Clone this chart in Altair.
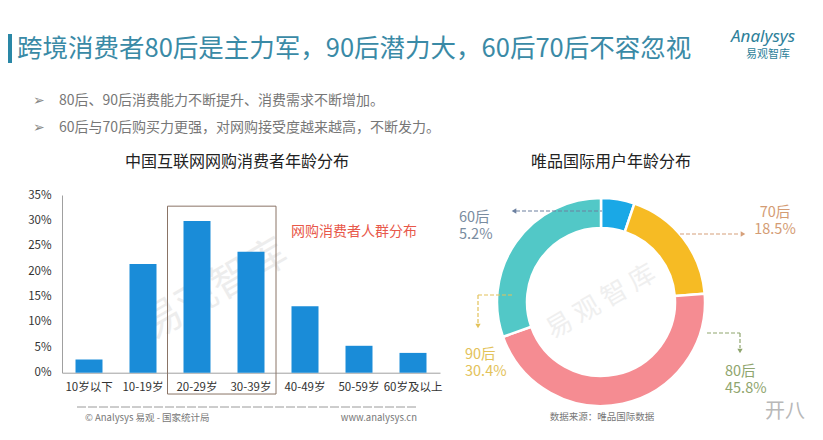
import altair as alt
import pandas as pd

FONT = "Noto Sans CJK SC"
OFF = 8  # page margin

# ---------- data ----------
age_groups = ["10岁以下", "10-19岁", "20-29岁", "30-39岁", "40-49岁", "50-59岁", "60岁及以上"]
age_shares = [0.026, 0.214, 0.299, 0.238, 0.131, 0.053, 0.039]

gen_labels = ["60后", "70后", "80后", "90后"]
gen_shares = [5.2, 18.5, 45.8, 30.4]
gen_colors = ["#1AA8E6", "#F6BB24", "#F58C92", "#52C8C7"]
gen_text_colors = ["#7A8CA0", "#D49C74", "#8FA56E", "#E3C25A"]

y_ticks = [0, 0.05, 0.10, 0.15, 0.20, 0.25, 0.30, 0.35]
highlight = ["20-29岁", "30-39岁"]

bars_df = pd.DataFrame({"age": age_groups, "share": age_shares})
pie_df = pd.DataFrame({"gen": gen_labels, "share": gen_shares, "idx": list(range(len(gen_labels)))})
box_df = pd.DataFrame({"a": [highlight[0]], "b": [highlight[1]], "top": [0.328], "bottom": [-0.042]})

ONE = alt.Data(values=[{}])


def txt(s, x, y, size, color, align="left", weight="normal", font=FONT, angle=0, style="normal",
        line_height=None):
    kw = dict(text=s, align=align, baseline="middle", fontSize=size, color=color,
              font=font, fontWeight=weight, angle=angle, fontStyle=style)
    if line_height is not None:
        kw["lineHeight"] = line_height
    return alt.Chart(ONE).mark_text(**kw).encode(x=alt.value(x - OFF), y=alt.value(y - OFF))


def rule(x1, y1, x2, y2, color, dash=(4, 2), width=1.2):
    return alt.Chart(ONE).mark_rule(color=color, strokeDash=list(dash), strokeWidth=width).encode(
        x=alt.value(x1 - OFF), y=alt.value(y1 - OFF), x2=alt.value(x2 - OFF), y2=alt.value(y2 - OFF)
    )


def head(x, y, shape, color, size=28):
    return alt.Chart(ONE).mark_point(shape=shape, filled=True, size=size, color=color, opacity=1).encode(
        x=alt.value(x - OFF), y=alt.value(y - OFF)
    )


def gen_label(i, x, y, align="left"):
    # y is the middle of the first line
    return txt([gen_labels[i], f"{gen_shares[i]}%"], x, y, 14.5, gen_text_colors[i],
               align=align, line_height=17)


# ---------- bar chart ----------
x_scale = alt.Scale(domain=age_groups, range=[62 - OFF, 440 - OFF], paddingInner=0.5, paddingOuter=0.25)
y_scale = alt.Scale(domain=[0, 0.35], range=[372.7 - OFF, 195 - OFF], nice=False, zero=True)

bars = alt.Chart(bars_df).mark_bar(color="#1A8CD8").encode(
    x=alt.X("age:N", sort=age_groups, scale=x_scale, title=None,
            axis=alt.Axis(orient="bottom", offset=372.7 - 432, labelAngle=0, labelFontSize=11.5,
                          labelColor="#333333", labelFont=FONT, ticks=False, tickSize=0,
                          labelPadding=9, domainColor="#A0A0A0", grid=False)),
    y=alt.Y("share:Q", scale=y_scale, title=None,
            axis=alt.Axis(orient="left", offset=-(62 - OFF), values=y_ticks, format=".0%",
                          labelFontSize=11.5, labelColor="#333333", labelFont=FONT, ticks=False,
                          tickSize=0, labelPadding=11, domainColor="#A0A0A0", grid=False)),
)

box = alt.Chart(box_df).mark_rect(fill=None, stroke="#8A7466", strokeWidth=1, xOffset=-16, x2Offset=25).encode(
    x=alt.X("a:N", sort=age_groups, scale=x_scale, bandPosition=0),
    x2=alt.X2("b:N"),
    y=alt.Y("top:Q", scale=y_scale),
    y2=alt.Y2("bottom:Q"),
)

# ---------- donut ----------
donut = alt.Chart(pie_df).mark_arc(radius=104, radius2=74, stroke="white", strokeWidth=2.5).encode(
    theta=alt.Theta("share:Q", stack=True),
    color=alt.Color("gen:N", scale=alt.Scale(domain=gen_labels, range=gen_colors), legend=None),
    order=alt.Order("idx:Q"),
    x=alt.value(601 - OFF),
    y=alt.value(302 - OFF),
)

layers = [
    # watermarks
    txt("易观智库", 215, 290, 40, "#EDEDED", align="center", angle=330),
    txt("易 观 智 库", 601, 302, 26, "#EFEFEF", align="center", angle=330),
    bars, box, donut,
    # header
    alt.Chart(ONE).mark_rect(color="#2A87A6").encode(
        x=alt.value(8 - OFF), x2=alt.value(12 - OFF), y=alt.value(34 - OFF), y2=alt.value(63 - OFF)),
    txt("跨境消费者80后是主力军，90后潜力大，60后70后不容忽视", 17, 48.5, 25.5, "#3A8AA6"),
    txt("Analysys", 731, 37, 17, "#2E7F9A", font="Noto Sans", style="italic"),
    txt("易观智库", 768, 55, 11, "#2E7F9A", align="center"),
    # bullets
    txt("➢", 33, 101, 14, "#888888", font="DejaVu Sans"),
    txt("80后、90后消费能力不断提升、消费需求不断增加。", 59, 101, 14, "#777777"),
    txt("➢", 33, 128, 14, "#888888", font="DejaVu Sans"),
    txt("60后与70后购买力更强，对网购接受度越来越高，不断发力。", 59, 128, 14, "#777777"),
    # chart titles
    txt("中国互联网网购消费者年龄分布", 237, 162, 16, "#222222", align="center"),
    txt("唯品国际用户年龄分布", 611, 162, 16, "#222222", align="center"),
    txt("网购消费者人群分布", 291, 232, 14, "#E8584A"),
    # bar footer
    rule(77, 407, 418, 407, "#9A9A9A", dash=(9, 2), width=1),
    txt("© Analysys 易观 - 国家统计局", 85, 418, 9.5, "#777777"),
    txt("www.analysys.cn", 417, 418, 9.5, "#777777", align="right"),
    txt("数据来源：唯品国际数据", 602, 417, 9.5, "#777777", align="center"),
    # donut leader lines
    rule(516, 211, 602, 211, "#6C80A0"), head(514, 211, "triangle-left", "#6C80A0"),
    rule(680, 234, 740, 234, "#D6A07A"), head(743, 234, "triangle-right", "#D6A07A"),
    rule(478, 295, 513, 295, "#E3C25A"), rule(478, 295, 478, 323, "#E3C25A"),
    head(478, 326, "triangle-down", "#E3C25A"),
    rule(707, 333, 740, 333, "#8FA56E"), rule(740, 333, 740, 348, "#8FA56E"),
    head(740, 351, "triangle-down", "#8FA56E"),
    # donut labels
    gen_label(0, 459, 217.5),
    gen_label(1, 775, 212.5, align="center"),
    gen_label(3, 465, 355),
    gen_label(2, 725, 372),
    # wechat mark
    txt("开八", 785, 412, 20, "#B8B8B8", align="center"),
]

chart = alt.layer(*layers).properties(
    width=823 - 2 * OFF, height=440 - 2 * OFF,
    autosize=alt.AutoSizeParams(type="none"), padding=0,
    background="white",
).configure_view(stroke=None)

chart.save("out.html", embed_options={"renderer": "svg", "actions": False})
